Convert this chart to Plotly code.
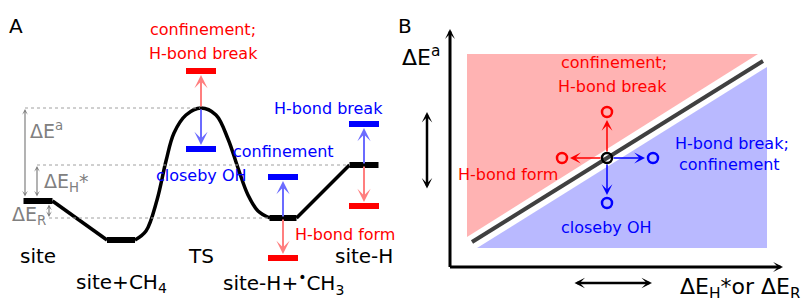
import plotly.graph_objects as go

# ---------------- Panel A : schematic energy profile (site = 0) ----------------
state_names = ["site", "site+CH<sub>4</sub>", "TS", "site-H+<sup>•</sup>CH<sub>3</sub>", "site-H"]
state_rc = [38, 121, 201, 283, 364]          # reaction-coordinate centre of each state
state_E = [0, -39, 93, -17, 36]               # schematic energies
level_half = [14.5, 14, 0, 13.5, 14.5]        # half length of flat minima
ts_curve_rc = [135, 146, 157, 166, 174, 186, 201, 216, 228, 238, 248, 258, 270]
ts_curve_E = [-39, -30, 1, 40, 68, 86, 93, 86, 62, 33, 6, -10, -17]

# perturbed levels (red = destabilised, blue = stabilised)
mod_rc = [201, 283, 364]
mod_base_E = [93, -17, 36]
mod_red_E = [130, -57, -5]
mod_blue_E = [52, 24, 77]
mod_half = 15

# ---------------- Panel B : descriptor map ----------------
pink_x = [17, 308, 17]
pink_y = [213, 213, 30]
blue_x = [27, 317, 317]
blue_y = [19, 19, 200]
split_x = [22, 313]
split_y = [25, 206]
centre = (157, 109)
red_pts_x = [157, 112]
red_pts_y = [155, 109]
blue_pts_x = [203, 157]
blue_pts_y = [109, 64]

RED = "#ff0000"
BLUE = "#0000ff"
LRED = "#ff7f7f"
LBLUE = "#6b6bff"
GRAY = "#808080"
FONT = "DejaVu Sans"

fig = go.Figure()

# ---- Panel A traces ----
fig.add_trace(go.Scatter(x=[state_rc[0] + level_half[0], state_rc[1] - level_half[1]],
                         y=[state_E[0], state_E[1]], mode="lines",
                         line=dict(color="black", width=3.5), xaxis="x", yaxis="y"))
fig.add_trace(go.Scatter(x=ts_curve_rc, y=ts_curve_E, mode="lines",
                         line=dict(color="black", width=3.5, shape="spline", smoothing=1.0),
                         xaxis="x", yaxis="y"))
fig.add_trace(go.Scatter(x=[state_rc[3] + level_half[3], state_rc[4] - level_half[4]],
                         y=[state_E[3], state_E[4]], mode="lines",
                         line=dict(color="black", width=3.5), xaxis="x", yaxis="y"))
for i in [0, 1, 3, 4]:
    fig.add_trace(go.Scatter(x=[state_rc[i] - level_half[i], state_rc[i] + level_half[i]],
                             y=[state_E[i], state_E[i]], mode="lines",
                             line=dict(color="black", width=6), xaxis="x", yaxis="y"))
for rc, er, eb in zip(mod_rc, mod_red_E, mod_blue_E):
    fig.add_trace(go.Scatter(x=[rc - mod_half, rc + mod_half], y=[er, er], mode="lines",
                             line=dict(color=RED, width=6), xaxis="x", yaxis="y"))
    fig.add_trace(go.Scatter(x=[rc - mod_half, rc + mod_half], y=[eb, eb], mode="lines",
                             line=dict(color=BLUE, width=6), xaxis="x", yaxis="y"))

# ---- Panel B traces ----
fig.add_trace(go.Scatter(x=pink_x, y=pink_y, fill="toself", fillcolor="#ffb3b3",
                         mode="lines", line=dict(width=0), xaxis="x2", yaxis="y2"))
fig.add_trace(go.Scatter(x=blue_x, y=blue_y, fill="toself", fillcolor="#b9b9ff",
                         mode="lines", line=dict(width=0), xaxis="x2", yaxis="y2"))
fig.add_trace(go.Scatter(x=split_x, y=split_y, mode="lines",
                         line=dict(color="#404040", width=4), xaxis="x2", yaxis="y2"))

annotations = []
shapes = []

def arrow(x, y, ax, ay, color, width, size, xr="x", yr="y", both=False):
    annotations.append(dict(x=x, y=y, ax=ax, ay=ay, xref=xr, yref=yr, axref=xr, ayref=yr,
                            text="", showarrow=True, arrowhead=3, arrowsize=size,
                            arrowwidth=width, arrowcolor=color,
                            arrowside="end+start" if both else "end",
                            startarrowhead=3, startarrowsize=size))

def label(x, y, text, color, size, xr="x", yr="y", xanchor="center"):
    annotations.append(dict(x=x, y=y, xref=xr, yref=yr, text=text, showarrow=False,
                            font=dict(family=FONT, size=size, color=color),
                            xanchor=xanchor, yanchor="middle"))

for rc, e0, er, eb in zip(mod_rc, mod_base_E, mod_red_E, mod_blue_E):
    arrow(rc, er + (4 if er < e0 else -4), rc, e0, LRED, 2, 1.1)
    arrow(rc, eb + (4 if eb < e0 else -4), rc, e0, LBLUE, 2, 1.1)

guide_x0 = [25, 37, 49]
guide_x1 = [200, 350, 270]
guide_E = [state_E[2], state_E[4], state_E[3]]
for gx0, gx1, ge in zip(guide_x0, guide_x1, guide_E):
    shapes.append(dict(type="line", xref="x", yref="y", x0=gx0, x1=gx1, y0=ge, y1=ge,
                       line=dict(color="#a0a0a0", width=1, dash="dot")))
    arrow(gx0, ge + (-1 if ge > 0 else 1), gx0, 3 if ge > 0 else -2, GRAY, 1.2, 0.8, both=True)

label(46, 71, "ΔE<sup>a</sup>", GRAY, 19)
label(66, 19, "ΔE<sub>H</sub>*", GRAY, 19)
label(29, -14, "ΔE<sub>R</sub>", GRAY, 19)

name_y = [-55, -82, -55, -82, -55]
for n, rc, ny in zip(state_names, state_rc, name_y):
    label(rc, ny, n, "black", 20)

label(203, 172, "confinement;", RED, 16)
label(203, 148, "H-bond break", RED, 16)
label(201, 26, "closeby OH", BLUE, 16)
label(283, 50, "confinement", BLUE, 16)
label(328, 93, "H-bond break", BLUE, 16)
label(345, -33, "H-bond form", RED, 16)

# ---- Panel B annotations ----
arrow(0, 238, 0, -1.5, "black", 3, 0.55, "x2", "y2")
arrow(333, 0, -1.5, 0, "black", 3, 0.55, "x2", "y2")
arrow(-23, 155, -23, 77, "black", 2.5, 0.7, "x2", "y2", both=True)
arrow(202, -16, 123, -16, "black", 2.5, 0.7, "x2", "y2", both=True)

cx, cy = centre
arrow(red_pts_x[0], red_pts_y[0] - 8, cx, cy + 5, RED, 1.5, 1.2, "x2", "y2")
arrow(red_pts_x[1] + 8, red_pts_y[1], cx - 5, cy, RED, 1.5, 1.2, "x2", "y2")
arrow(blue_pts_x[0] - 8, blue_pts_y[0], cx + 5, cy, BLUE, 1.5, 1.2, "x2", "y2")
arrow(blue_pts_x[1], blue_pts_y[1] + 8, cx, cy - 5, BLUE, 1.5, 1.2, "x2", "y2")

fig.add_trace(go.Scatter(x=red_pts_x, y=red_pts_y, mode="markers",
                         marker=dict(symbol="circle-open", size=10, color=RED, line=dict(width=2.5)),
                         xaxis="x2", yaxis="y2"))
fig.add_trace(go.Scatter(x=blue_pts_x, y=blue_pts_y, mode="markers",
                         marker=dict(symbol="circle-open", size=10, color=BLUE, line=dict(width=2.5)),
                         xaxis="x2", yaxis="y2"))
fig.add_trace(go.Scatter(x=[cx], y=[cy], mode="markers",
                         marker=dict(symbol="circle-open", size=10, color="black", line=dict(width=2.5)),
                         xaxis="x2", yaxis="y2"))

label(164, 205, "confinement;", RED, 16, "x2", "y2")
label(162, 181, "H-bond break", RED, 16, "x2", "y2")
label(58, 93, "H-bond form", RED, 16, "x2", "y2")
label(156, 40, "closeby OH", BLUE, 16, "x2", "y2")
label(282, 124, "H-bond break;", BLUE, 16, "x2", "y2")
label(279, 103, "confinement", BLUE, 16, "x2", "y2")

label(-29, 211, "ΔE<sup>a</sup>", "black", 22, "x2", "y2")
label(228, -21, "ΔE<sub>H</sub>*or ΔE<sub>R</sub>", "black", 22, "x2", "y2", xanchor="left")

annotations.append(dict(x=16 / 811, y=1 - 26 / 298, xref="paper", yref="paper", text="A",
                        showarrow=False, font=dict(family=FONT, size=20, color="black"),
                        xanchor="center", yanchor="middle"))
annotations.append(dict(x=405 / 811, y=1 - 26 / 298, xref="paper", yref="paper", text="B",
                        showarrow=False, font=dict(family=FONT, size=20, color="black"),
                        xanchor="center", yanchor="middle"))

fig.update_layout(
    width=811, height=298, margin=dict(l=0, r=0, t=0, b=0),
    paper_bgcolor="white", plot_bgcolor="white", showlegend=False,
    xaxis=dict(domain=[0, 1], range=[0, 811], visible=False, fixedrange=True),
    yaxis=dict(domain=[0, 1], range=[-97, 201], visible=False, fixedrange=True),
    xaxis2=dict(domain=[0, 1], range=[-450, 361], visible=False, overlaying="x", anchor="y2"),
    yaxis2=dict(domain=[0, 1], range=[-31, 267], visible=False, overlaying="y", anchor="x2"),
    annotations=annotations, shapes=shapes,
)

fig.write_html("out.html", config={"displayModeBar": False},
               post_script="document.body.style.margin='0';document.body.style.overflow='hidden';")
